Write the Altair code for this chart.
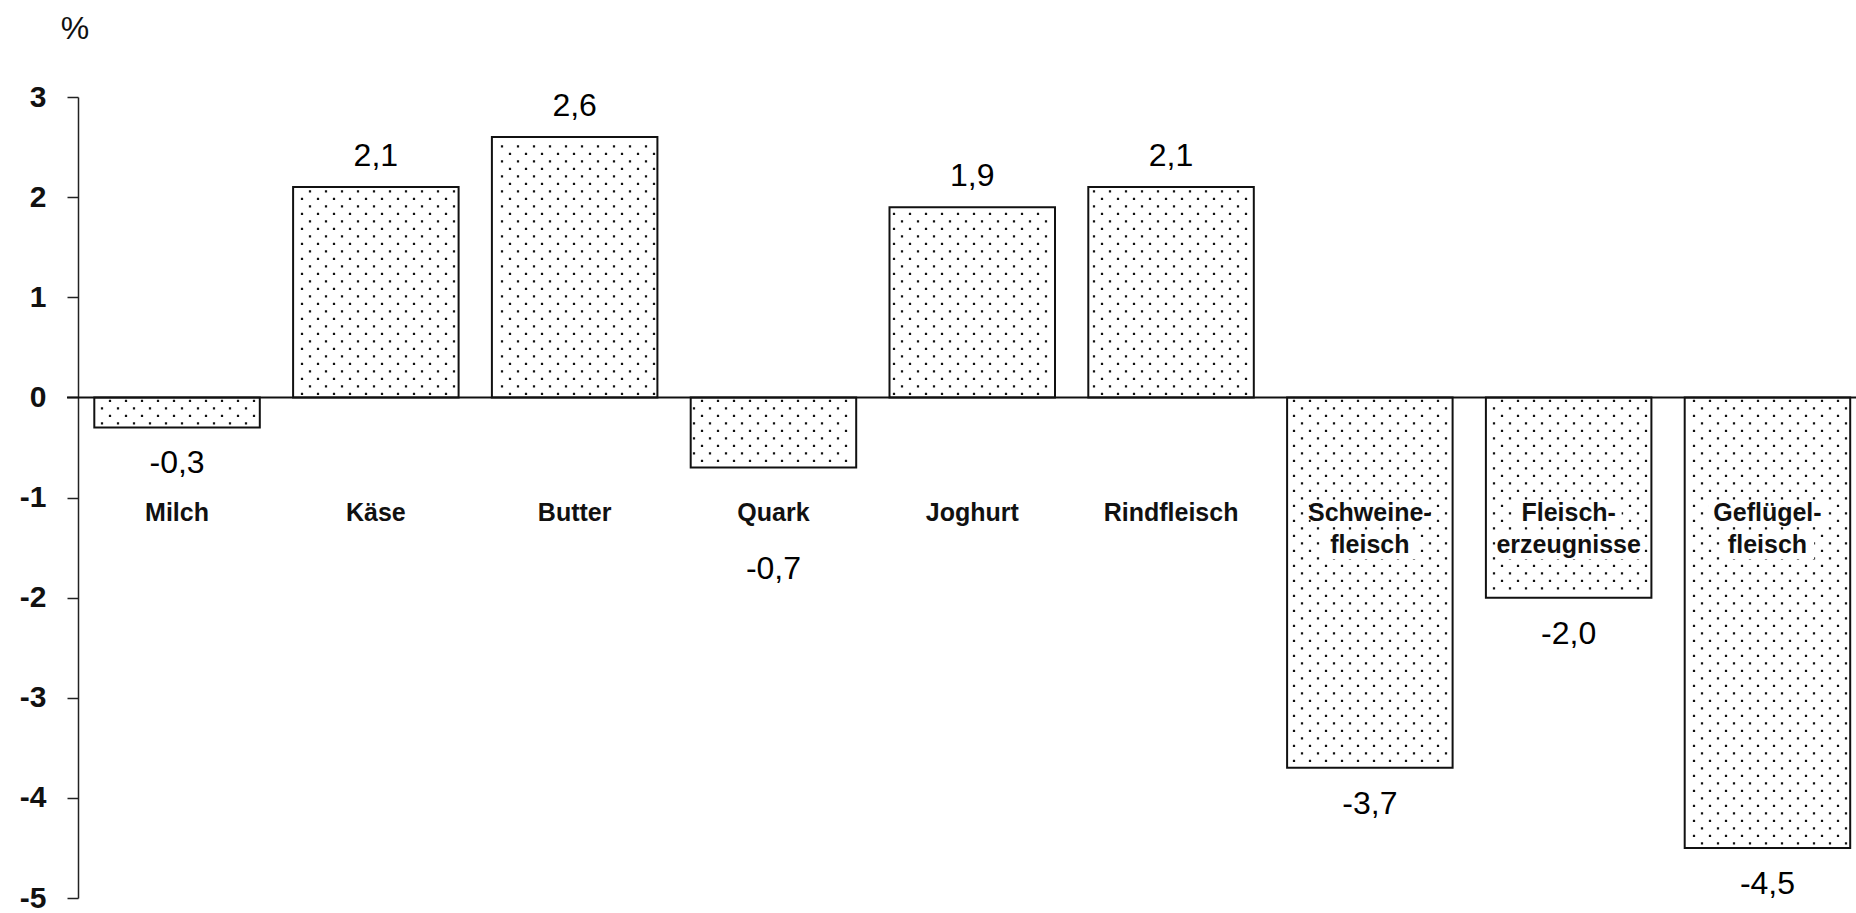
import altair as alt
import numpy as np
import pandas as pd

# Change against the previous year, in percent
categories = [
    "Milch", "Käse", "Butter", "Quark", "Joghurt", "Rindfleisch",
    "Schweine-\nfleisch", "Fleisch-\nerzeugnisse", "Geflügel-\nfleisch",
]
changes = [-0.3, 2.1, 2.6, -0.7, 1.9, 2.1, -3.7, -2.0, -4.5]
y_ticks = [-5, -4, -3, -2, -1, 0, 1, 2, 3]

FONT = "Liberation Sans"
W, H = 1778, 801
PAD = {"left": 78, "top": 97, "right": 0, "bottom": 15}
Y_MIN, Y_MAX = -5, 3
STEP_PX = 198.8                      # one category slot in pixels
X_MAX = W / STEP_PX
BAR_START, BAR_WIDTH = 0.082, 0.8325  # within a slot, in slot units
PX_Y = H / (Y_MAX - Y_MIN)
CAT_Y = 404                          # top of the category label row (px)
LINE_H = 32

xs = alt.Scale(domain=[0, X_MAX], nice=False, zero=False)
ys = alt.Scale(domain=[Y_MIN, Y_MAX], nice=False, zero=False)

y_axis = alt.Axis(
    values=y_ticks, title=None, grid=False,
    labelFont=FONT, labelFontSize=30, labelFontWeight="bold", labelColor="#111",
    labelPadding=21, labelExpr="'' + datum.value",
    tickSize=11, tickColor="#222", tickWidth=1.5,
    domainColor="#222", domainWidth=1.5,
)


def X(field):
    return alt.X(field, scale=xs, axis=None)


def Y(field):
    return alt.Y(field, scale=ys, axis=y_axis)


def px_to_y(py):
    return Y_MAX - py / PX_Y


bars = pd.DataFrame({"category": categories, "value": changes})
bars["i"] = np.arange(len(bars))
bars["label"] = [f"{v:.1f}".replace(".", ",") for v in changes]

# dotted fill texture: staggered dots inside each bar
dot_rows = []
for i, v in enumerate(changes):
    left = (i + BAR_START) * STEP_PX + 3
    right = (i + BAR_START + BAR_WIDTH) * STEP_PX - 3
    depth = abs(v) * PX_Y - 3
    r = 0
    d = 3.5
    while d <= depth:
        cols = np.arange(np.ceil(left / 8) * 8, right, 8)
        for x in cols:
            if (int(round(x / 8)) + r) % 2 == 0:
                dot_rows.append({"x": x / STEP_PX, "y": np.sign(v) * d / PX_Y})
        r += 1
        d += 7.5
dots = pd.DataFrame(dot_rows)

# white backing behind category labels that sit inside a bar
box_rows = []
label_bottom = px_to_y(CAT_Y + LINE_H * 2 + 4)
for i, (cat, v) in enumerate(zip(categories, changes)):
    if v > label_bottom:
        continue
    xc = i + BAR_START + BAR_WIDTH / 2
    for j, line in enumerate(cat.split("\n")):
        half = (len(line) * 12.5 + 6) / 2 / STEP_PX
        top = CAT_Y + LINE_H * j - 1
        box_rows.append({"bx0": xc - half, "bx1": xc + half,
                         "by0": px_to_y(top), "by1": px_to_y(top + 27)})
boxes = pd.DataFrame(box_rows)

base = alt.Chart(bars).transform_calculate(
    x0=f"datum.i + {BAR_START}",
    x1=f"datum.i + {BAR_START + BAR_WIDTH}",
    xc=f"datum.i + {BAR_START + BAR_WIDTH / 2}",
    zero="0",
)

bar_layer = base.mark_rect(fill="white", stroke="#111", strokeWidth=2).encode(
    x=X("x0:Q"), x2="x1:Q", y=Y("value:Q"), y2="zero:Q",
)

dot_layer = alt.Chart(dots).mark_square(size=5, color="#111", opacity=1).encode(
    x=X("x:Q"), y=Y("y:Q"),
)

box_layer = alt.Chart(boxes).mark_rect(fill="white").encode(
    x=X("bx0:Q"), x2="bx1:Q", y=Y("by0:Q"), y2="by1:Q",
)

zero_line = alt.Chart(pd.DataFrame({"z": [0]})).mark_rule(
    color="#111", strokeWidth=2
).encode(
    y=Y("z:Q"), x=alt.value(-11), x2=alt.value(W),
)

cat_text = base.mark_text(
    font=FONT, fontSize=25, fontWeight="bold", baseline="top", align="center",
    lineBreak="\n", lineHeight=LINE_H, color="#111",
).encode(
    x=X("xc:Q"), y=alt.value(CAT_Y), text="category:N",
)

pos_text = base.transform_filter("datum.value >= 0").mark_text(
    font=FONT, fontSize=32, baseline="alphabetic", align="center", dy=-21, color="#000",
).encode(
    x=X("xc:Q"), y=Y("value:Q"), text="label:N",
)

# short negative bars whose label would hit the category row get it below that row
row_bottom = px_to_y(CAT_Y + 32)
neg_text = base.transform_filter("datum.value < 0").transform_calculate(
    ly=f"(datum.value < -0.5 && datum.value > {row_bottom}) ? {row_bottom} : datum.value"
).mark_text(
    font=FONT, fontSize=32, baseline="alphabetic", align="center", dy=46, color="#000",
).encode(
    x=X("xc:Q"), y=Y("ly:Q"), text="label:N",
)

unit_text = alt.Chart(pd.DataFrame({"t": ["%"]})).mark_text(
    font=FONT, fontSize=32, baseline="middle", align="center", color="#111",
).encode(text="t:N", x=alt.value(-3), y=alt.value(-68))

chart = alt.layer(
    bar_layer, dot_layer, box_layer, zero_line, cat_text, pos_text, neg_text, unit_text
).properties(
    width=W, height=H, padding=PAD,
    autosize=alt.AutoSizeParams(type="none"),
).configure_view(stroke="transparent")

chart.save("out.html", embed_options={"renderer": "svg", "actions": False})
